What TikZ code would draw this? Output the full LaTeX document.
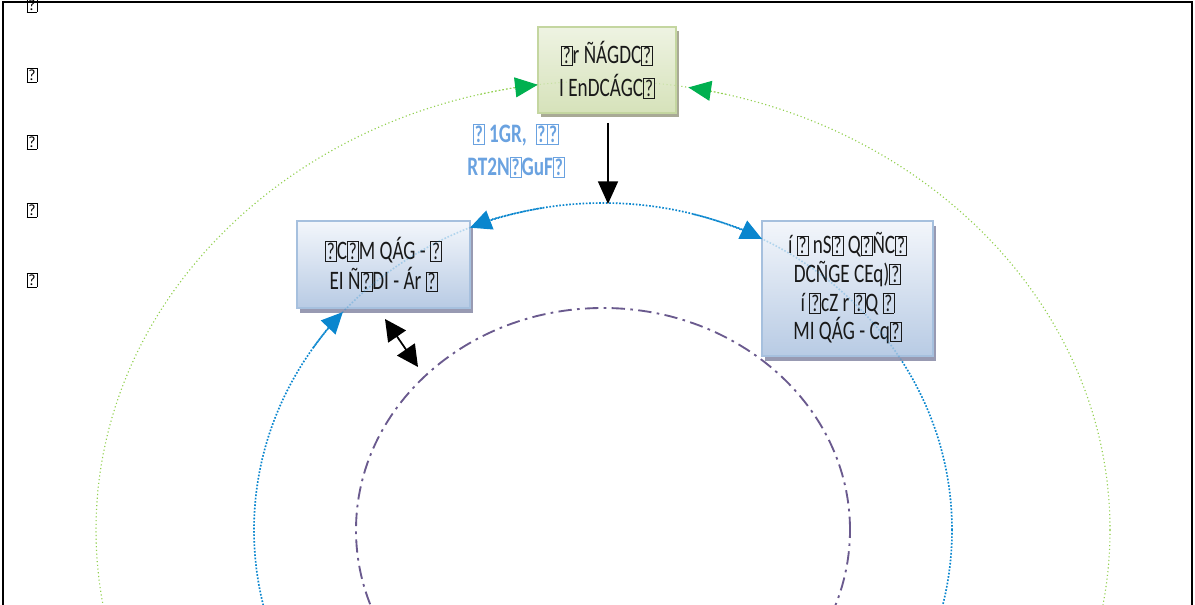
\documentclass[tikz,border=0pt]{standalone}
\usepackage{fontspec}
\setmainfont{Carlito}
\newfontfamily\cond[FakeStretch=0.72]{Carlito}
\usetikzlibrary{arrows.meta,shadows,calc}
\definecolor{gline}{HTML}{92D050}
\definecolor{garrow}{HTML}{00B050}
\definecolor{bline}{HTML}{0A86CE}
\definecolor{pline}{HTML}{6A5A8E}
\definecolor{lbl}{HTML}{6AA2E0}
\definecolor{g1top}{HTML}{EEF3E2}
\definecolor{g1bot}{HTML}{D6E2BA}
\definecolor{g1bd}{HTML}{C4D6A0}
\definecolor{b1top}{HTML}{F3F6FB}
\definecolor{b1bot}{HTML}{B8CBE4}
\definecolor{b1bd}{HTML}{A6C0DE}
\definecolor{gshadow}{HTML}{A9AA96}
\definecolor{bshadow}{HTML}{989AB2}
\newcommand\mg{{\setlength\fboxsep{0.9pt}\setlength\fboxrule{0.5pt}\fbox{\scalebox{0.9}{?}}}}
\tikzset{
  greenarc/.style={draw=gline, line width=0.8pt, dash pattern=on 0.8pt off 2pt},
  bluearc/.style={draw=bline, line width=1.2pt, dash pattern=on 1.2pt off 1.3pt},
  purplearc/.style={draw=pline, line width=1.4pt, dash pattern=on 10pt off 4pt on 2pt off 4pt},
  gtip/.style={-{Triangle[length=17pt,width=15pt,color=garrow]}},
  btip/.style={-{Triangle[length=16pt,width=15pt]}},
  greenbox/.style={draw=g1bd, line width=1.4pt, top color=g1top, bottom color=g1bot,
    drop shadow={shadow xshift=2pt, shadow yshift=-3pt, fill=gshadow, opacity=1},
    align=center, font=\cond\fontsize{20}{24.5}\selectfont, text=black!90},
  bluebox/.style={draw=b1bd, line width=1.4pt, top color=b1top, bottom color=b1bot,
    drop shadow={shadow xshift=2pt, shadow yshift=-3.5pt, fill=bshadow, opacity=1},
    align=center, font=\cond\fontsize{20}{23}\selectfont, text=black!90},
  qmark/.style={font=\fontsize{13}{13}\selectfont, inner sep=0pt},
  blk/.style={line width=1.3pt, draw=black}
}
\begin{document}
\begin{tikzpicture}[x=0.75pt,y=0.75pt]
\useasboundingbox (0,0) rectangle (1195,604);
\clip (0,0) rectangle (1195,604);
\draw[line width=1.1pt] (3,-20) rectangle (1192,602);
\coordinate (ctr) at (603,74);
% ellipses
\draw[greenarc] (ctr) ellipse [x radius=380.25pt, y radius=336.75pt];
\draw[bluearc] (ctr) ellipse [x radius=261.75pt, y radius=245.25pt];
\draw[purplearc] (ctr) ellipse [x radius=185.25pt, y radius=166.5pt];
% boxes
\node[greenbox, minimum width=103.5pt, minimum height=64.5pt] (box1) at (607,534)
  {\mg r ÑÁGDC\mg\\I EnDCÁGC\mg};
\node[bluebox, minimum width=129.75pt, minimum height=65.25pt] (box2) at (383.5,339.5)
  {\mg C\mg M QÁG - \mg\\EI Ñ\mg DI - Ár \mg};
\node[bluebox, minimum width=128.25pt, minimum height=101.25pt, font=\cond\fontsize{20}{21.5}\selectfont] (box3) at (847.5,315.5)
  {í \mg\ nS\mg\ Q\mg ÑC\mg\\DCÑGE CEq)\mg\\í \mg cZ r \mg Q \mg\\MI QÁG - Cq\mg};
% faint lines seen through boxes
\draw[greenarc, draw opacity=0.3] (ctr) ellipse [x radius=380.25pt, y radius=336.75pt];
\draw[bluearc, draw opacity=0.25] (ctr) ellipse [x radius=261.75pt, y radius=245.25pt];
% arrows on green ellipse
\draw[greenarc, gtip] ([shift={(104:380.25pt and 336.75pt)}]ctr) arc[start angle=104, end angle=97.4, x radius=380.25pt, y radius=336.75pt];
\draw[greenarc, gtip] ([shift={(76:380.25pt and 336.75pt)}]ctr) arc[start angle=76, end angle=80.3, x radius=380.25pt, y radius=336.75pt];
% arrows on blue ellipse
\draw[bluearc, btip] ([shift={(100:261.75pt and 245.25pt)}]ctr) arc[start angle=100, end angle=112.4, x radius=261.75pt, y radius=245.25pt];
\draw[bluearc, btip] ([shift={(75:261.75pt and 245.25pt)}]ctr) arc[start angle=75, end angle=62.9, x radius=261.75pt, y radius=245.25pt];
\draw[bluearc, btip] ([shift={(146:261.75pt and 245.25pt)}]ctr) arc[start angle=146, end angle=138.2, x radius=261.75pt, y radius=245.25pt];
% black arrows
\coordinate (btop) at (608,400);
\draw[blk, -{Triangle[length=17pt,width=15pt]}, shorten <=6.75pt] (box1.south -| btop) -- (btop);
\coordinate (dA) at (385,285);
\coordinate (dB) at (418,237);
\draw[blk, {Triangle[length=16pt,width=16pt]}-{Triangle[length=16pt,width=16pt]}] (dA) -- (dB);
% label
\node[font=\cond\bfseries\fontsize{20}{24.75}\selectfont, text=lbl, align=center] (lab) at (516,453)
  {\mg\ 1GR, \ \mg\mg\\RT2N\mg GuF\mg};
% left column marks
\foreach \yy [count=\i] in {599,529,462,394,324}
  \node[qmark] (q\i) at (32,\yy) {\mg};
\end{tikzpicture}
\end{document}
